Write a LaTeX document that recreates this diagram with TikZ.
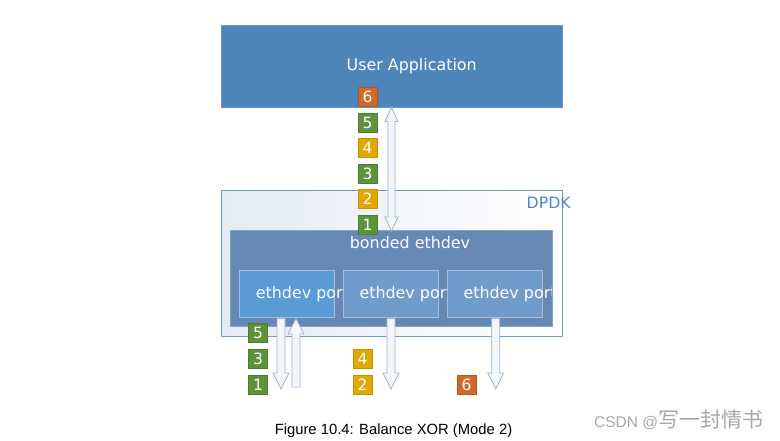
\documentclass[tikz,border=0pt]{standalone}
\usepackage{fontspec}
\setmainfont{DejaVu Sans}
\newfontfamily\capfont{Liberation Sans}
\newfontfamily\cjkfont{Noto Sans CJK SC}
\definecolor{appblue}{HTML}{4F85BB}
\definecolor{appedge}{HTML}{6A98C8}
\definecolor{bondfill}{HTML}{6588B4}
\definecolor{bondedge}{HTML}{86A2C6}
\definecolor{portA}{HTML}{5A9AD5}
\definecolor{portB}{HTML}{709CCB}
\definecolor{portedge}{HTML}{A9BCD4}
\definecolor{dpdkedge}{HTML}{6E9ACB}
\definecolor{dpdkleft}{HTML}{E4EBF5}
\definecolor{dpdktext}{HTML}{4F86C6}
\definecolor{sqgreen}{HTML}{5E9339}
\definecolor{sqgreenE}{HTML}{4E7D2E}
\definecolor{sqgold}{HTML}{E2A700}
\definecolor{sqgoldE}{HTML}{C79200}
\definecolor{sqorange}{HTML}{D0692A}
\definecolor{sqorangeE}{HTML}{B35820}
\definecolor{arrfill}{HTML}{F3F6FA}
\definecolor{arredge}{HTML}{9FB3CF}
\definecolor{wmgray}{HTML}{A8A8A8}
\tikzset{
  boxtext/.style={text=white, font=\fontsize{15.9}{18}\selectfont, inner sep=0pt},
  numsq/.style={minimum width=19pt, minimum height=19pt, inner sep=0pt, line width=0.8pt, text=white, font=\fontsize{15.5}{18}\selectfont},
  gsq/.style={numsq, fill=sqgreen, draw=sqgreenE},
  ysq/.style={numsq, fill=sqgold, draw=sqgoldE},
  osq/.style={numsq, fill=sqorange, draw=sqorangeE},
  blockarrow/.style={fill=arrfill, draw=arredge, line width=0.8pt, line join=miter},
  portbox/.style={minimum width=95pt, minimum height=47.7pt, inner sep=0pt, draw=portedge, line width=0.8pt}
}
\begin{document}
\begin{tikzpicture}[x=1pt,y=-1pt]
\useasboundingbox (0,0) rectangle (780,440);
\fill[white] (0,0) rectangle (780,440);

% User application
\node[fill=appblue, draw=appedge, line width=0.6pt, minimum width=341pt, minimum height=82pt, inner sep=0pt] (app) at (391.5,66) {};
\node[boxtext, anchor=base] (apptxt) at (411.7,70.5) {User Application};

% DPDK box
\node[left color=dpdkleft, middle color=white, right color=white, draw=dpdkedge, line width=0.8pt, minimum width=341pt, minimum height=145.3pt, inner sep=0pt] (dpdk) at (391.5,263.35) {};
\node[inner sep=0pt, anchor=base west, text=dpdktext, font=\fontsize{15.7}{18}\selectfont] (dpdktxt) at (526.5,208.5) {DPDK};

% bonded ethdev
\node[fill=bondfill, draw=bondedge, line width=0.8pt, minimum width=322pt, minimum height=96pt, inner sep=0pt] (bond) at (391,278.7) {};
\node[boxtext, anchor=base] (bondtxt) at (410,248.3) {bonded ethdev};

% ports
\node[portbox, fill=portA] (p1) at (287,293.85) {};
\node[portbox, fill=portB] (p2) at (390.8,293.85) {};
\node[portbox, fill=portB] (p3) at (495,293.85) {};
\begin{scope}
\clip (239,268) rectangle (342.3,320);
\node[boxtext, anchor=base west] (t1) at (255.7,298.3) {ethdev port};
\end{scope}
\begin{scope}
\clip (343,268) rectangle (446,320);
\node[boxtext, anchor=base west] (t2) at (359.3,298.3) {ethdev port};
\end{scope}
\begin{scope}
\clip (447,268) rectangle (551.5,320);
\node[boxtext, anchor=base west] (t3) at (463.3,298.3) {ethdev port};
\end{scope}

% top double arrow
\draw[blockarrow] (391.5,107.5) -- (398,121.5) -- (395,121.5) -- (395,217) -- (398,217) -- (391.5,231) -- (385,217) -- (388,217) -- (388,121.5) -- (385,121.5) -- cycle;

% port arrows
\draw[blockarrow] (277,318.5) -- (285,318.5) -- (285,373) -- (289,373) -- (281,389) -- (273,373) -- (277,373) -- cycle;
\draw[blockarrow] (296,318.5) -- (304,334) -- (300,334) -- (300,387) -- (292,387) -- (292,334) -- (288,334) -- cycle;
\draw[blockarrow] (387,318.5) -- (395,318.5) -- (395,373) -- (399,373) -- (391,389) -- (383,373) -- (387,373) -- cycle;
\draw[blockarrow] (491.7,318.5) -- (499.7,318.5) -- (499.7,373) -- (503.7,373) -- (495.7,389) -- (487.7,373) -- (491.7,373) -- cycle;

% top squares
\node[osq] (a6) at (367.5,96.5) {6};
\node[gsq] (a5) at (367.5,122.5) {5};
\node[ysq] (a4) at (367.5,147.5) {4};
\node[gsq] (a3) at (367.5,173.5) {3};
\node[ysq] (a2) at (367.5,199) {2};
\node[gsq] (a1) at (367.5,224.5) {1};

% bottom squares
\node[gsq] (b5) at (258,333) {5};
\node[gsq] (b3) at (258,359) {3};
\node[gsq] (b1) at (258,384.5) {1};
\node[ysq] (c4) at (362.5,359) {4};
\node[ysq] (c2) at (362.5,384.5) {2};
\node[osq] (d6) at (466.5,384.5) {6};

% caption
\node[inner sep=0pt, anchor=base, font=\capfont\fontsize{14.8}{17}\selectfont] (cap) at (393.5,434.5) {Figure 10.4: Balance XOR (Mode 2)};
\node[inner sep=0pt, anchor=base west, text=wmgray] (wm) at (594,427.5) {{\capfont\fontsize{15.5}{19}\selectfont CSDN @}{\cjkfont\fontsize{21}{24}\selectfont 写一封情书}};
\end{tikzpicture}
\end{document}
